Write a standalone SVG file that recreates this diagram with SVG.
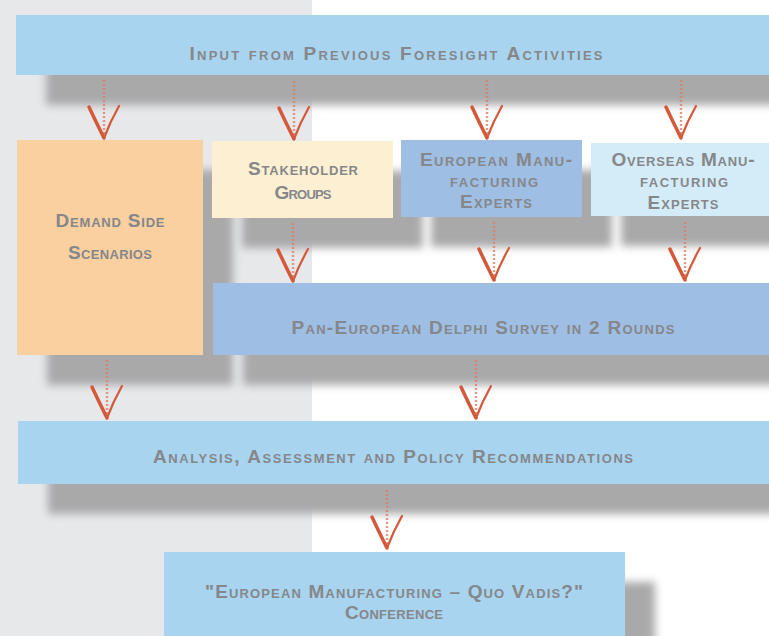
<svg xmlns="http://www.w3.org/2000/svg" width="769" height="636" viewBox="0 0 769 636">
  <style>
    .t { font-family: "Liberation Sans", Arial, sans-serif; font-variant: small-caps; font-weight: bold; font-size: 19px; fill: #85878a; text-anchor: middle; }
    .sh { fill: #a9a9aa; filter: url(#blur); }
    .arm { fill: none; stroke: #d4593a; stroke-linecap: round; }
  </style>
  <defs>
    <filter id="blur" x="-10%" y="-30%" width="120%" height="160%">
      <feGaussianBlur stdDeviation="4.5"/>
    </filter>
    <!-- hand-drawn down arrow, tip at origin -->
    <g id="arrow">
      <path d="M0,-58 L0,-2" fill="none" stroke="#dc8066" stroke-width="2.4" stroke-dasharray="2 2" opacity="0.8"/>
      <path class="arm" d="M-15,-31 Q-8,-16 0,0" stroke-width="3.5"/>
      <path class="arm" d="M15,-32 Q6,-16 0,0" stroke-width="2.2"/>
    </g>
  </defs>

  <!-- backdrop -->
  <rect x="0" y="0" width="769" height="636" fill="#ffffff"/>
  <rect x="0" y="0" width="312" height="636" fill="#e7e8ea"/>

  <!-- drop shadows -->
  <g id="shadows">
    <rect class="sh" x="46" y="45" width="740" height="60"/>
    <rect class="sh" x="47" y="170" width="186" height="215"/>
    <rect class="sh" x="242" y="171" width="181" height="77"/>
    <rect class="sh" x="431" y="170" width="181" height="77"/>
    <rect class="sh" x="621" y="173" width="170" height="73"/>
    <rect class="sh" x="243" y="313" width="560" height="72"/>
    <rect class="sh" x="48" y="451" width="750" height="63"/>
    <rect class="sh" x="194" y="582" width="461" height="84"/>
  </g>

  <g id="input">
    <rect x="16" y="15" width="760" height="60" fill="#a9d4ef"/>
    <text class="t" x="396" y="60" textLength="413" lengthAdjust="spacing">Input from Previous Foresight Activities</text>
  </g>

  <g id="demand">
    <rect x="17" y="140" width="186" height="215" fill="#fad0a1"/>
    <text class="t" x="110" y="227" textLength="109" lengthAdjust="spacing">Demand Side</text>
    <text class="t" x="110" y="259" textLength="84" lengthAdjust="spacing">Scenarios</text>
  </g>

  <g id="stakeholder">
    <rect x="212" y="141" width="181" height="77" fill="#fdf0d2"/>
    <text class="t" x="303" y="175" textLength="110" lengthAdjust="spacing">Stakeholder</text>
    <text class="t" x="303" y="199" textLength="57" lengthAdjust="spacing">Groups</text>
  </g>

  <g id="european">
    <rect x="401" y="140" width="181" height="77" fill="#9fbee3"/>
    <text class="t" x="496" y="166" textLength="152" lengthAdjust="spacing">European Manu-</text>
    <text class="t" x="494" y="187" textLength="88" lengthAdjust="spacing">facturing</text>
    <text class="t" x="496" y="208" textLength="72" lengthAdjust="spacing">Experts</text>
  </g>

  <g id="overseas">
    <rect x="591" y="143" width="180" height="73" fill="#d4ecf8"/>
    <text class="t" x="683" y="166" textLength="143" lengthAdjust="spacing">Overseas Manu-</text>
    <text class="t" x="684" y="187" textLength="88" lengthAdjust="spacing">facturing</text>
    <text class="t" x="683" y="209" textLength="71" lengthAdjust="spacing">Experts</text>
  </g>

  <g id="delphi">
    <rect x="213" y="283" width="560" height="72" fill="#9fbee3"/>
    <text class="t" x="483" y="334" textLength="383" lengthAdjust="spacing">Pan-European Delphi Survey in 2 Rounds</text>
  </g>

  <g id="analysis">
    <rect x="18" y="421" width="755" height="63" fill="#a9d4ef"/>
    <text class="t" x="393" y="463" textLength="480" lengthAdjust="spacing">Analysis, Assessment and Policy Recommendations</text>
  </g>

  <g id="conference">
    <rect x="164" y="552" width="461" height="90" fill="#a9d4ef"/>
    <text class="t" x="394" y="598" textLength="378" lengthAdjust="spacing">"European Manufacturing – Quo Vadis?"</text>
    <text class="t" x="394" y="619" textLength="98" lengthAdjust="spacing">Conference</text>
  </g>

  <g id="connectors">
    <use href="#arrow" x="104" y="138"/>
    <use href="#arrow" x="294" y="139"/>
    <use href="#arrow" x="487" y="138"/>
    <use href="#arrow" x="681" y="138"/>
    <use href="#arrow" x="293" y="281"/>
    <use href="#arrow" x="494" y="280"/>
    <use href="#arrow" x="685" y="280"/>
    <use href="#arrow" x="107" y="418"/>
    <use href="#arrow" x="476" y="418"/>
    <use href="#arrow" x="387" y="548"/>
  </g>
</svg>
